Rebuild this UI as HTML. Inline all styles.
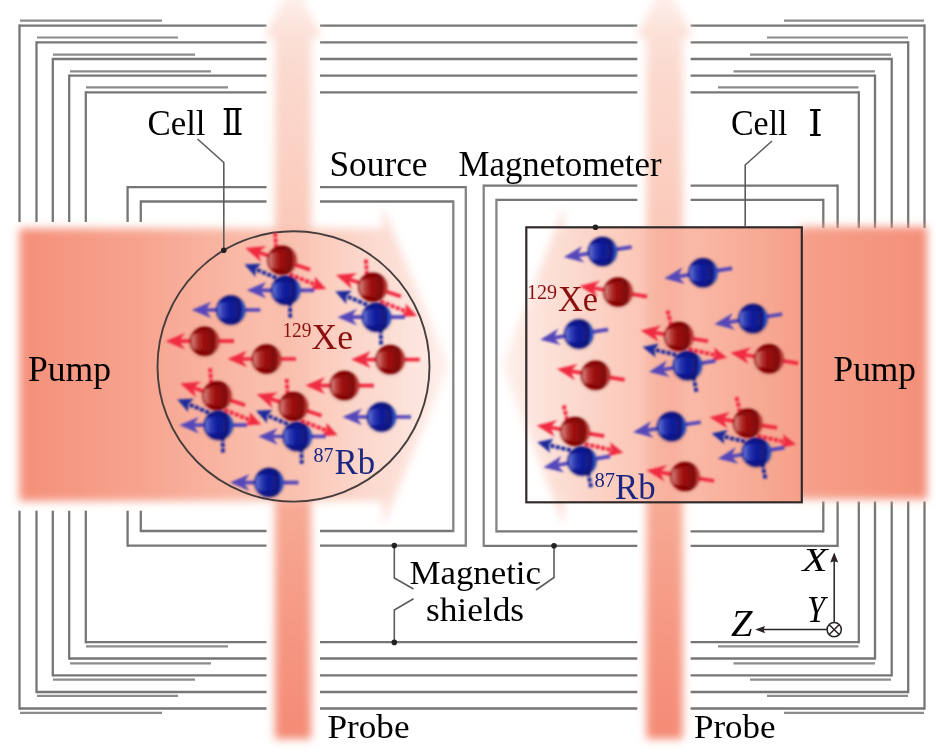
<!DOCTYPE html>
<html><head><meta charset="utf-8"><title>Magnetometer schematic</title>
<style>
html,body{margin:0;padding:0;background:#fff;}
body{width:936px;height:752px;overflow:hidden;}
svg{display:block;}
text{font-family:"Liberation Serif","Noto Serif CJK SC",serif;}
</style></head><body>
<svg width="936" height="752" viewBox="0 0 936 752">
<defs>
<filter id="b3" x="-10%" y="-10%" width="120%" height="120%"><feGaussianBlur stdDeviation="4.5"/></filter>
<filter id="b3r" x="-10%" y="-10%" width="120%" height="120%"><feGaussianBlur stdDeviation="4"/></filter>
<filter id="b2" x="-60%" y="-5%" width="220%" height="110%"><feGaussianBlur stdDeviation="4.3"/></filter>
<filter id="b05" x="-5%" y="-5%" width="110%" height="110%"><feGaussianBlur stdDeviation="0.55"/></filter>
<filter id="b12" x="-30%" y="-30%" width="160%" height="160%"><feGaussianBlur stdDeviation="1.3"/></filter>
<filter id="b06" x="-30%" y="-30%" width="160%" height="160%"><feGaussianBlur stdDeviation="0.6"/></filter>
<filter id="b07" x="-20%" y="-20%" width="140%" height="140%"><feGaussianBlur stdDeviation="0.9"/></filter>
<clipPath id="cpRect"><rect x="526.3" y="227.3" width="275.5" height="275.0"/></clipPath>
<clipPath id="cpCirc"><ellipse cx="293.5" cy="366.4" rx="136" ry="135.2"/></clipPath>
<linearGradient id="gPL" gradientUnits="userSpaceOnUse" x1="17" y1="0" x2="452" y2="0">
 <stop offset="0" stop-color="#f48f79"/>
 <stop offset="0.30" stop-color="#f7a590"/>
 <stop offset="0.62" stop-color="#fac3b2"/>
 <stop offset="0.84" stop-color="#fcdcd2"/>
 <stop offset="0.93" stop-color="#fde6df"/>
 <stop offset="1" stop-color="#fef2ee"/>
</linearGradient>
<linearGradient id="gPR" gradientUnits="userSpaceOnUse" x1="927" y1="0" x2="500" y2="0">
 <stop offset="0" stop-color="#f48f79"/>
 <stop offset="0.30" stop-color="#f6a08a"/>
 <stop offset="0.46" stop-color="#f8b09c"/>
 <stop offset="0.62" stop-color="#fac0ae"/>
 <stop offset="0.84" stop-color="#fcdbd0"/>
 <stop offset="0.93" stop-color="#fde6df"/>
 <stop offset="1" stop-color="#fef2ee"/>
</linearGradient>
<linearGradient id="gPr" gradientUnits="userSpaceOnUse" x1="0" y1="738" x2="0" y2="-20">
 <stop offset="0" stop-color="#f48b75"/>
 <stop offset="0.15" stop-color="#f59883"/>
 <stop offset="0.30" stop-color="#f7a994"/>
 <stop offset="0.66" stop-color="#fac8b9"/>
 <stop offset="0.78" stop-color="#fbd2c5"/>
 <stop offset="0.87" stop-color="#fbd8cd"/>
 <stop offset="0.925" stop-color="#fce0d7"/>
 <stop offset="0.975" stop-color="#feeee9"/>
 <stop offset="1" stop-color="#fff6f3"/>
</linearGradient>
<linearGradient id="gR" x1="0" y1="0" x2="0" y2="1">
 <stop offset="0" stop-color="#7e0404"/><stop offset="0.28" stop-color="#9a0a0a"/><stop offset="0.72" stop-color="#9a0a0a"/><stop offset="1" stop-color="#7e0404"/>
</linearGradient>
<linearGradient id="gB" x1="0" y1="0" x2="0" y2="1">
 <stop offset="0" stop-color="#090f7c"/><stop offset="0.28" stop-color="#111c9a"/><stop offset="0.72" stop-color="#111c9a"/><stop offset="1" stop-color="#090f7c"/>
</linearGradient>
<linearGradient id="gGR" x1="0" y1="0" x2="1" y2="0">
 <stop offset="0" stop-color="#e8a8a4" stop-opacity="0.85"/><stop offset="0.35" stop-color="#d87870" stop-opacity="0.55"/><stop offset="1" stop-color="#c04038" stop-opacity="0"/>
</linearGradient>
<linearGradient id="gGB" x1="0" y1="0" x2="1" y2="0">
 <stop offset="0" stop-color="#8a98e8" stop-opacity="0.8"/><stop offset="0.35" stop-color="#5a6cd4" stop-opacity="0.5"/><stop offset="1" stop-color="#3040c0" stop-opacity="0"/>
</linearGradient>
<linearGradient id="gSh" x1="0" y1="0" x2="1" y2="0">
 <stop offset="0.55" stop-color="#201010" stop-opacity="0"/><stop offset="0.78" stop-color="#201010" stop-opacity="0.22"/><stop offset="0.9" stop-color="#201010" stop-opacity="0"/>
</linearGradient>
<g id="sR">
 <circle cx="0" cy="0.4" r="15.4" fill="#5a1a10" opacity="0.30" filter="url(#b12)"/>
 <circle r="14.5" fill="url(#gR)"/>
 <circle r="14.5" fill="url(#gSh)"/>
 <path d="M-11.8 -6.3C-9 -8 -4 -8.4 -1.2 -7.8C0.6 -3 0.6 3.5 -1.8 8.2C-5 8.8 -9 8.6 -11.2 7.4C-13.3 3.5 -13.5 -2.5 -11.8 -6.3Z" fill="url(#gGR)" filter="url(#b06)"/>
 <path d="M8.4 -11.6A14.3 14.3 0 0 1 8.4 11.6A22 22 0 0 0 8.4 -11.6Z" fill="#c04440" opacity="0.85" filter="url(#b06)"/>
</g>
<g id="sB">
 <circle cx="0" cy="0.4" r="15.4" fill="#1a1c50" opacity="0.30" filter="url(#b12)"/>
 <circle r="14.5" fill="url(#gB)"/>
 <circle r="14.5" fill="url(#gSh)"/>
 <path d="M-11.8 -6.3C-9 -8 -4 -8.4 -1.2 -7.8C0.6 -3 0.6 3.5 -1.8 8.2C-5 8.8 -9 8.6 -11.2 7.4C-13.3 3.5 -13.5 -2.5 -11.8 -6.3Z" fill="url(#gGB)" filter="url(#b06)"/>
 <path d="M8.4 -11.6A14.3 14.3 0 0 1 8.4 11.6A22 22 0 0 0 8.4 -11.6Z" fill="#3058c4" opacity="0.9" filter="url(#b06)"/>
</g>
<linearGradient id="gGl" x1="0" y1="0" x2="1" y2="0">
 <stop offset="0" stop-color="#fff" stop-opacity="0.40"/>
 <stop offset="1" stop-color="#fff" stop-opacity="0.05"/>
</linearGradient>
</defs>
<rect width="936" height="752" fill="#fff"/>

<g filter="url(#b05)">
<path d="M19.5 25.6L266.5 25.6" stroke="#767676" stroke-width="2.3" fill="none"/>
<path d="M320.0 25.6L637.3 25.6" stroke="#767676" stroke-width="2.3" fill="none"/>
<path d="M690.6 25.6L924.5 25.6" stroke="#767676" stroke-width="2.3" fill="none"/>
<path d="M19.5 708.5L266.5 708.5" stroke="#767676" stroke-width="2.3" fill="none"/>
<path d="M320.0 708.5L637.3 708.5" stroke="#767676" stroke-width="2.3" fill="none"/>
<path d="M690.6 708.5L924.5 708.5" stroke="#767676" stroke-width="2.3" fill="none"/>
<path d="M19.5 24.450000000000003L19.5 222.0" stroke="#767676" stroke-width="2.3" fill="none"/>
<path d="M19.5 510.7L19.5 709.65" stroke="#767676" stroke-width="2.3" fill="none"/>
<path d="M924.5 24.450000000000003L924.5 228.0" stroke="#767676" stroke-width="2.3" fill="none"/>
<path d="M924.5 501.5L924.5 709.65" stroke="#767676" stroke-width="2.3" fill="none"/>
<path d="M36.5 42.4L266.5 42.4" stroke="#767676" stroke-width="2.3" fill="none"/>
<path d="M320.0 42.4L637.3 42.4" stroke="#767676" stroke-width="2.3" fill="none"/>
<path d="M690.6 42.4L908.2 42.4" stroke="#767676" stroke-width="2.3" fill="none"/>
<path d="M36.5 692.0L266.5 692.0" stroke="#767676" stroke-width="2.3" fill="none"/>
<path d="M320.0 692.0L637.3 692.0" stroke="#767676" stroke-width="2.3" fill="none"/>
<path d="M690.6 692.0L908.2 692.0" stroke="#767676" stroke-width="2.3" fill="none"/>
<path d="M36.5 41.25L36.5 222.0" stroke="#767676" stroke-width="2.3" fill="none"/>
<path d="M36.5 510.7L36.5 693.15" stroke="#767676" stroke-width="2.3" fill="none"/>
<path d="M908.2 41.25L908.2 228.0" stroke="#767676" stroke-width="2.3" fill="none"/>
<path d="M908.2 501.5L908.2 693.15" stroke="#767676" stroke-width="2.3" fill="none"/>
<path d="M52.8 59.0L266.5 59.0" stroke="#767676" stroke-width="2.3" fill="none"/>
<path d="M320.0 59.0L637.3 59.0" stroke="#767676" stroke-width="2.3" fill="none"/>
<path d="M690.6 59.0L891.7 59.0" stroke="#767676" stroke-width="2.3" fill="none"/>
<path d="M52.8 675.3L266.5 675.3" stroke="#767676" stroke-width="2.3" fill="none"/>
<path d="M320.0 675.3L637.3 675.3" stroke="#767676" stroke-width="2.3" fill="none"/>
<path d="M690.6 675.3L891.7 675.3" stroke="#767676" stroke-width="2.3" fill="none"/>
<path d="M52.8 57.85L52.8 222.0" stroke="#767676" stroke-width="2.3" fill="none"/>
<path d="M52.8 510.7L52.8 676.4499999999999" stroke="#767676" stroke-width="2.3" fill="none"/>
<path d="M891.7 57.85L891.7 228.0" stroke="#767676" stroke-width="2.3" fill="none"/>
<path d="M891.7 501.5L891.7 676.4499999999999" stroke="#767676" stroke-width="2.3" fill="none"/>
<path d="M69.2 75.7L266.5 75.7" stroke="#767676" stroke-width="2.3" fill="none"/>
<path d="M320.0 75.7L637.3 75.7" stroke="#767676" stroke-width="2.3" fill="none"/>
<path d="M690.6 75.7L875.0 75.7" stroke="#767676" stroke-width="2.3" fill="none"/>
<path d="M69.2 658.5L266.5 658.5" stroke="#767676" stroke-width="2.3" fill="none"/>
<path d="M320.0 658.5L637.3 658.5" stroke="#767676" stroke-width="2.3" fill="none"/>
<path d="M690.6 658.5L875.0 658.5" stroke="#767676" stroke-width="2.3" fill="none"/>
<path d="M69.2 74.55L69.2 222.0" stroke="#767676" stroke-width="2.3" fill="none"/>
<path d="M69.2 510.7L69.2 659.65" stroke="#767676" stroke-width="2.3" fill="none"/>
<path d="M875.0 74.55L875.0 228.0" stroke="#767676" stroke-width="2.3" fill="none"/>
<path d="M875.0 501.5L875.0 659.65" stroke="#767676" stroke-width="2.3" fill="none"/>
<path d="M85.8 92.4L266.5 92.4" stroke="#767676" stroke-width="2.3" fill="none"/>
<path d="M320.0 92.4L637.3 92.4" stroke="#767676" stroke-width="2.3" fill="none"/>
<path d="M690.6 92.4L858.8 92.4" stroke="#767676" stroke-width="2.3" fill="none"/>
<path d="M85.8 642.2L266.5 642.2" stroke="#767676" stroke-width="2.3" fill="none"/>
<path d="M320.0 642.2L637.3 642.2" stroke="#767676" stroke-width="2.3" fill="none"/>
<path d="M690.6 642.2L858.8 642.2" stroke="#767676" stroke-width="2.3" fill="none"/>
<path d="M85.8 91.25L85.8 222.0" stroke="#767676" stroke-width="2.3" fill="none"/>
<path d="M85.8 510.7L85.8 643.35" stroke="#767676" stroke-width="2.3" fill="none"/>
<path d="M858.8 91.25L858.8 228.0" stroke="#767676" stroke-width="2.3" fill="none"/>
<path d="M858.8 501.5L858.8 643.35" stroke="#767676" stroke-width="2.3" fill="none"/>
<path d="M20 20.6L162 20.6" stroke="#8c8c8c" stroke-width="2.2" fill="none"/>
<path d="M20 712.8L162 712.8" stroke="#8c8c8c" stroke-width="2.2" fill="none"/>
<path d="M784 20.6L924 20.6" stroke="#8c8c8c" stroke-width="2.2" fill="none"/>
<path d="M784 712.8L924 712.8" stroke="#8c8c8c" stroke-width="2.2" fill="none"/>
<path d="M37 37.5L178 37.5" stroke="#8c8c8c" stroke-width="2.2" fill="none"/>
<path d="M37 695.9L178 695.9" stroke="#8c8c8c" stroke-width="2.2" fill="none"/>
<path d="M767 37.5L908 37.5" stroke="#8c8c8c" stroke-width="2.2" fill="none"/>
<path d="M767 695.9L908 695.9" stroke="#8c8c8c" stroke-width="2.2" fill="none"/>
<path d="M53 54.6L195 54.6" stroke="#8c8c8c" stroke-width="2.2" fill="none"/>
<path d="M53 679.6L195 679.6" stroke="#8c8c8c" stroke-width="2.2" fill="none"/>
<path d="M750 54.6L891 54.6" stroke="#8c8c8c" stroke-width="2.2" fill="none"/>
<path d="M750 679.6L891 679.6" stroke="#8c8c8c" stroke-width="2.2" fill="none"/>
<path d="M70 71.3L211 71.3" stroke="#8c8c8c" stroke-width="2.2" fill="none"/>
<path d="M70 663.3L211 663.3" stroke="#8c8c8c" stroke-width="2.2" fill="none"/>
<path d="M733.5 71.3L875 71.3" stroke="#8c8c8c" stroke-width="2.2" fill="none"/>
<path d="M733.5 663.3L875 663.3" stroke="#8c8c8c" stroke-width="2.2" fill="none"/>
<path d="M86 87.4L228 87.4" stroke="#8c8c8c" stroke-width="2.2" fill="none"/>
<path d="M86 646.4L228 646.4" stroke="#8c8c8c" stroke-width="2.2" fill="none"/>
<path d="M718 87.4L858.5 87.4" stroke="#8c8c8c" stroke-width="2.2" fill="none"/>
<path d="M718 646.4L858.5 646.4" stroke="#8c8c8c" stroke-width="2.2" fill="none"/>
<path d="M127.6 187.1L266.5 187.1" stroke="#767676" stroke-width="2.3" fill="none"/>
<path d="M320.0 187.1L465.8 187.1" stroke="#767676" stroke-width="2.3" fill="none"/>
<path d="M127.6 545.6L266.5 545.6" stroke="#767676" stroke-width="2.3" fill="none"/>
<path d="M320.0 545.6L465.8 545.6" stroke="#767676" stroke-width="2.3" fill="none"/>
<path d="M127.6 185.95L127.6 222.0" stroke="#767676" stroke-width="2.3" fill="none"/>
<path d="M127.6 510.7L127.6 546.75" stroke="#767676" stroke-width="2.3" fill="none"/>
<path d="M140.8 201.5L266.5 201.5" stroke="#767676" stroke-width="2.3" fill="none"/>
<path d="M320.0 201.5L453.3 201.5" stroke="#767676" stroke-width="2.3" fill="none"/>
<path d="M140.8 531.0L266.5 531.0" stroke="#767676" stroke-width="2.3" fill="none"/>
<path d="M320.0 531.0L453.3 531.0" stroke="#767676" stroke-width="2.3" fill="none"/>
<path d="M140.8 200.35L140.8 222.0" stroke="#767676" stroke-width="2.3" fill="none"/>
<path d="M140.8 510.7L140.8 532.15" stroke="#767676" stroke-width="2.3" fill="none"/>
<path d="M483.7 185.7L637.3 185.7" stroke="#767676" stroke-width="2.3" fill="none"/>
<path d="M690.6 185.7L837.6 185.7" stroke="#767676" stroke-width="2.3" fill="none"/>
<path d="M483.7 545.8L637.3 545.8" stroke="#767676" stroke-width="2.3" fill="none"/>
<path d="M690.6 545.8L837.6 545.8" stroke="#767676" stroke-width="2.3" fill="none"/>
<path d="M837.6 184.54999999999998L837.6 228.0" stroke="#767676" stroke-width="2.3" fill="none"/>
<path d="M837.6 501.5L837.6 546.9499999999999" stroke="#767676" stroke-width="2.3" fill="none"/>
<path d="M496.4 199.9L637.3 199.9" stroke="#767676" stroke-width="2.3" fill="none"/>
<path d="M690.6 199.9L823.3 199.9" stroke="#767676" stroke-width="2.3" fill="none"/>
<path d="M496.4 531.3L637.3 531.3" stroke="#767676" stroke-width="2.3" fill="none"/>
<path d="M690.6 531.3L823.3 531.3" stroke="#767676" stroke-width="2.3" fill="none"/>
<path d="M823.3 198.75L823.3 228.0" stroke="#767676" stroke-width="2.3" fill="none"/>
<path d="M823.3 501.5L823.3 532.4499999999999" stroke="#767676" stroke-width="2.3" fill="none"/>
</g>
<path d="M274.9 739L274.9 37.5L264.5 37.5L293.0 -21L321.5 37.5L311.1 37.5L311.1 739Z" fill="url(#gPr)" filter="url(#b2)"/>
<path d="M646.5 739L646.5 37.5L636.1 37.5L664.6 -21L693.1 37.5L682.7 37.5L682.7 739Z" fill="url(#gPr)" filter="url(#b2)"/>
<path d="M19.3 228.5L383 228.5L383 207L449 366L383 526L383 501L19.3 501Z" fill="url(#gPL)" filter="url(#b3)"/>
<path d="M927.2 226.8L799 226.8L799 234L564 234L564 207L502 366L564 526L564 495.5L799 495.5L799 499.3L927.2 499.3Z" fill="url(#gPR)" filter="url(#b3r)"/>
<g clip-path="url(#cpRect)"><rect x="562" y="212" width="260" height="306" fill="url(#gPR)" filter="url(#b3r)"/></g>
<g clip-path="url(#cpCirc)"><rect x="120" y="212" width="272" height="306" fill="url(#gPL)" filter="url(#b3)"/></g>
<g clip-path="url(#cpRect)"><rect x="647.5" y="215" width="34.5" height="300" fill="#f38c76" opacity="0.24" filter="url(#b2)"/></g>
<g clip-path="url(#cpCirc)"><rect x="276" y="215" width="34" height="300" fill="#f38c76" opacity="0.07" filter="url(#b2)"/></g>
<g filter="url(#b05)">
<path d="M465.8 185.95L465.8 546.75" stroke="#848484" stroke-width="2.3" fill="none"/>
<path d="M453.3 200.35L453.3 532.15" stroke="#848484" stroke-width="2.3" fill="none"/>
<path d="M483.7 184.54999999999998L483.7 546.9499999999999" stroke="#848484" stroke-width="2.3" fill="none"/>
<path d="M496.4 198.75L496.4 532.4499999999999" stroke="#848484" stroke-width="2.3" fill="none"/>
</g>
<g filter="url(#b05)">
<ellipse cx="293.5" cy="366.4" rx="136" ry="135.2" fill="none" stroke="#463e3e" stroke-width="1.9"/>
<rect x="526.3" y="227.3" width="275.5" height="275.0" fill="none" stroke="#322b2b" stroke-width="2.2"/>
</g>
<g filter="url(#b07)" transform="translate(0 0.9)">
<g transform="translate(230.8 309.0) rotate(0)"><path d="M-39.0 0L-19.5 -8.3L-24.0 -1.85L29.5 -1.85L29.5 1.85L-24.0 1.85L-19.5 8.3Z" fill="#5446ba"/></g><use href="#sB" x="230.8" y="309.0"/>
<g transform="translate(204.5 340.2) rotate(0)"><path d="M-39.0 0L-19.5 -8.3L-24.0 -1.85L29.5 -1.85L29.5 1.85L-24.0 1.85L-19.5 8.3Z" fill="#f02a40"/></g><use href="#sR" x="204.5" y="340.2"/>
<g transform="translate(266.5 358.0) rotate(0)"><path d="M-39.0 0L-19.5 -8.3L-24.0 -1.85L29.5 -1.85L29.5 1.85L-24.0 1.85L-19.5 8.3Z" fill="#f02a40"/></g><use href="#sR" x="266.5" y="358.0"/>
<g transform="translate(390.2 358.6) rotate(0)"><path d="M-39.0 0L-19.5 -8.3L-24.0 -1.85L29.5 -1.85L29.5 1.85L-24.0 1.85L-19.5 8.3Z" fill="#f02a40"/></g><use href="#sR" x="390.2" y="358.6"/>
<g transform="translate(344.4 384.6) rotate(0)"><path d="M-39.0 0L-19.5 -8.3L-24.0 -1.85L29.5 -1.85L29.5 1.85L-24.0 1.85L-19.5 8.3Z" fill="#f02a40"/></g><use href="#sR" x="344.4" y="384.6"/>
<g transform="translate(381.5 416.0) rotate(0)"><path d="M-39.0 0L-19.5 -8.3L-24.0 -1.85L29.5 -1.85L29.5 1.85L-24.0 1.85L-19.5 8.3Z" fill="#5446ba"/></g><use href="#sB" x="381.5" y="416.0"/>
<g transform="translate(269.0 481.6) rotate(0)"><path d="M-39.0 0L-19.5 -8.3L-24.0 -1.85L29.5 -1.85L29.5 1.85L-24.0 1.85L-19.5 8.3Z" fill="#5446ba"/></g><use href="#sB" x="269.0" y="481.6"/>
<g transform="translate(282.0 259.3) rotate(0)"><path d="M-6.9 -27.5L-5.8 -12" stroke="#f02a40" stroke-width="3.9" stroke-dasharray="4.2 1.4" fill="none"/><g transform="rotate(18.4)"><path d="M-38.8 0L-19.299999999999997 -8.3L-23.799999999999997 -1.85L29.6 -1.85L29.6 1.85L-23.799999999999997 1.85L-19.299999999999997 8.3Z" fill="#f02a40"/></g><g transform="translate(7.5 14.0) rotate(21.9)"><path d="M0 0L27.5 0" stroke="#f02a40" stroke-width="3.9" stroke-dasharray="4.2 1.4" fill="none"/><path d="M39.5 0L24.5 -7.2L27.5 0L24.5 7.2Z" fill="#f02a40"/></g><g transform="translate(-5.7 17.7) rotate(-157.0)"><path d="M0 0L23.5 0" stroke="#1f2a9c" stroke-width="3.9" stroke-dasharray="4.2 1.4" fill="none"/><path d="M34.5 0L19.5 -7.2L22.5 0L19.5 7.2Z" fill="#1f2a9c"/></g><g transform="translate(3.7 30.0)"><path d="M-39.0 0L-19.5 -8.3L-24.0 -1.85L28.5 -1.85L28.5 1.85L-24.0 1.85L-19.5 8.3Z" fill="#5446ba"/></g><path d="M7.9 42.0L8.3 58.4" stroke="#1f2a9c" stroke-width="3.9" stroke-dasharray="4.2 1.4" fill="none"/></g><use href="#sR" x="282.0" y="259.3"/><use href="#sB" x="285.7" y="289.3"/>
<g transform="translate(372.8 286.2) rotate(0)"><path d="M-6.9 -27.5L-5.8 -12" stroke="#f02a40" stroke-width="3.9" stroke-dasharray="4.2 1.4" fill="none"/><g transform="rotate(18.4)"><path d="M-38.8 0L-19.299999999999997 -8.3L-23.799999999999997 -1.85L29.6 -1.85L29.6 1.85L-23.799999999999997 1.85L-19.299999999999997 8.3Z" fill="#f02a40"/></g><g transform="translate(7.5 14.0) rotate(21.9)"><path d="M0 0L27.5 0" stroke="#f02a40" stroke-width="3.9" stroke-dasharray="4.2 1.4" fill="none"/><path d="M39.5 0L24.5 -7.2L27.5 0L24.5 7.2Z" fill="#f02a40"/></g><g transform="translate(-5.7 17.7) rotate(-157.0)"><path d="M0 0L23.5 0" stroke="#1f2a9c" stroke-width="3.9" stroke-dasharray="4.2 1.4" fill="none"/><path d="M34.5 0L19.5 -7.2L22.5 0L19.5 7.2Z" fill="#1f2a9c"/></g><g transform="translate(3.7 30.0)"><path d="M-39.0 0L-19.5 -8.3L-24.0 -1.85L28.5 -1.85L28.5 1.85L-24.0 1.85L-19.5 8.3Z" fill="#5446ba"/></g><path d="M7.9 42.0L8.3 58.4" stroke="#1f2a9c" stroke-width="3.9" stroke-dasharray="4.2 1.4" fill="none"/></g><use href="#sR" x="372.8" y="286.2"/><use href="#sB" x="376.5" y="316.2"/>
<g transform="translate(217.0 394.8) rotate(0)"><path d="M-6.9 -27.5L-5.8 -12" stroke="#f02a40" stroke-width="3.9" stroke-dasharray="4.2 1.4" fill="none"/><g transform="rotate(18.4)"><path d="M-38.8 0L-19.299999999999997 -8.3L-23.799999999999997 -1.85L29.6 -1.85L29.6 1.85L-23.799999999999997 1.85L-19.299999999999997 8.3Z" fill="#f02a40"/></g><g transform="translate(7.5 14.0) rotate(21.9)"><path d="M0 0L27.5 0" stroke="#f02a40" stroke-width="3.9" stroke-dasharray="4.2 1.4" fill="none"/><path d="M39.5 0L24.5 -7.2L27.5 0L24.5 7.2Z" fill="#f02a40"/></g><g transform="translate(-8.0 17.099999999999998) rotate(-157.0)"><path d="M0 0L23.5 0" stroke="#1f2a9c" stroke-width="3.9" stroke-dasharray="4.2 1.4" fill="none"/><path d="M34.5 0L19.5 -7.2L22.5 0L19.5 7.2Z" fill="#1f2a9c"/></g><g transform="translate(1.4000000000000004 29.4)"><path d="M-39.0 0L-19.5 -8.3L-24.0 -1.85L28.5 -1.85L28.5 1.85L-24.0 1.85L-19.5 8.3Z" fill="#5446ba"/></g><path d="M5.6000000000000005 41.4L6.0 57.8" stroke="#1f2a9c" stroke-width="3.9" stroke-dasharray="4.2 1.4" fill="none"/></g><use href="#sR" x="217.0" y="394.8"/><use href="#sB" x="218.4" y="424.2"/>
<g transform="translate(293.5 405.5) rotate(0)"><path d="M-6.9 -27.5L-5.8 -12" stroke="#f02a40" stroke-width="3.9" stroke-dasharray="4.2 1.4" fill="none"/><g transform="rotate(18.4)"><path d="M-38.8 0L-19.299999999999997 -8.3L-23.799999999999997 -1.85L29.6 -1.85L29.6 1.85L-23.799999999999997 1.85L-19.299999999999997 8.3Z" fill="#f02a40"/></g><g transform="translate(7.5 14.0) rotate(21.9)"><path d="M0 0L27.5 0" stroke="#f02a40" stroke-width="3.9" stroke-dasharray="4.2 1.4" fill="none"/><path d="M39.5 0L24.5 -7.2L27.5 0L24.5 7.2Z" fill="#f02a40"/></g><g transform="translate(-5.7 17.7) rotate(-157.0)"><path d="M0 0L23.5 0" stroke="#1f2a9c" stroke-width="3.9" stroke-dasharray="4.2 1.4" fill="none"/><path d="M34.5 0L19.5 -7.2L22.5 0L19.5 7.2Z" fill="#1f2a9c"/></g><g transform="translate(3.7 30.0)"><path d="M-39.0 0L-19.5 -8.3L-24.0 -1.85L28.5 -1.85L28.5 1.85L-24.0 1.85L-19.5 8.3Z" fill="#5446ba"/></g><path d="M7.9 42.0L8.3 58.4" stroke="#1f2a9c" stroke-width="3.9" stroke-dasharray="4.2 1.4" fill="none"/></g><use href="#sR" x="293.5" y="405.5"/><use href="#sB" x="297.2" y="435.5"/>
<g transform="translate(602.5 250.5) rotate(-8.5)"><path d="M-39.0 0L-19.5 -8.3L-24.0 -1.85L29.5 -1.85L29.5 1.85L-24.0 1.85L-19.5 8.3Z" fill="#5446ba"/></g><use href="#sB" x="602.5" y="250.5"/>
<g transform="translate(618.0 291.0) rotate(9)"><path d="M-39.0 0L-19.5 -8.3L-24.0 -1.85L29.5 -1.85L29.5 1.85L-24.0 1.85L-19.5 8.3Z" fill="#f02a40"/></g><use href="#sR" x="618.0" y="291.0"/>
<g transform="translate(703.0 271.8) rotate(-8.5)"><path d="M-39.0 0L-19.5 -8.3L-24.0 -1.85L29.5 -1.85L29.5 1.85L-24.0 1.85L-19.5 8.3Z" fill="#5446ba"/></g><use href="#sB" x="703.0" y="271.8"/>
<g transform="translate(578.8 333.0) rotate(-8.5)"><path d="M-39.0 0L-19.5 -8.3L-24.0 -1.85L29.5 -1.85L29.5 1.85L-24.0 1.85L-19.5 8.3Z" fill="#5446ba"/></g><use href="#sB" x="578.8" y="333.0"/>
<g transform="translate(753.0 317.6) rotate(-8.5)"><path d="M-39.0 0L-19.5 -8.3L-24.0 -1.85L29.5 -1.85L29.5 1.85L-24.0 1.85L-19.5 8.3Z" fill="#5446ba"/></g><use href="#sB" x="753.0" y="317.6"/>
<g transform="translate(595.5 374.2) rotate(9)"><path d="M-39.0 0L-19.5 -8.3L-24.0 -1.85L29.5 -1.85L29.5 1.85L-24.0 1.85L-19.5 8.3Z" fill="#f02a40"/></g><use href="#sR" x="595.5" y="374.2"/>
<g transform="translate(769.0 357.8) rotate(9)"><path d="M-39.0 0L-19.5 -8.3L-24.0 -1.85L29.5 -1.85L29.5 1.85L-24.0 1.85L-19.5 8.3Z" fill="#f02a40"/></g><use href="#sR" x="769.0" y="357.8"/>
<g transform="translate(671.6 425.6) rotate(-8.5)"><path d="M-39.0 0L-19.5 -8.3L-24.0 -1.85L29.5 -1.85L29.5 1.85L-24.0 1.85L-19.5 8.3Z" fill="#5446ba"/></g><use href="#sB" x="671.6" y="425.6"/>
<g transform="translate(685.0 475.4) rotate(9)"><path d="M-39.0 0L-19.5 -8.3L-24.0 -1.85L29.5 -1.85L29.5 1.85L-24.0 1.85L-19.5 8.3Z" fill="#f02a40"/></g><use href="#sR" x="685.0" y="475.4"/>
<g transform="translate(678.9 335.6) rotate(-9.4)"><path d="M-6.9 -27.5L-5.8 -12" stroke="#f02a40" stroke-width="3.9" stroke-dasharray="4.2 1.4" fill="none"/><g transform="rotate(18.4)"><path d="M-38.8 0L-19.299999999999997 -8.3L-23.799999999999997 -1.85L29.6 -1.85L29.6 1.85L-23.799999999999997 1.85L-19.299999999999997 8.3Z" fill="#f02a40"/></g><g transform="translate(7.5 14.0) rotate(21.9)"><path d="M0 0L27.5 0" stroke="#f02a40" stroke-width="3.9" stroke-dasharray="4.2 1.4" fill="none"/><path d="M39.5 0L24.5 -7.2L27.5 0L24.5 7.2Z" fill="#f02a40"/></g><g transform="translate(-5.7 17.7) rotate(-157.0)"><path d="M0 0L23.5 0" stroke="#1f2a9c" stroke-width="3.9" stroke-dasharray="4.2 1.4" fill="none"/><path d="M34.5 0L19.5 -7.2L22.5 0L19.5 7.2Z" fill="#1f2a9c"/></g><g transform="translate(3.7 30.0)"><path d="M-39.0 0L-19.5 -8.3L-24.0 -1.85L28.5 -1.85L28.5 1.85L-24.0 1.85L-19.5 8.3Z" fill="#5446ba"/></g><path d="M7.9 42.0L8.3 58.4" stroke="#1f2a9c" stroke-width="3.9" stroke-dasharray="4.2 1.4" fill="none"/></g><use href="#sR" x="678.9" y="335.6"/><use href="#sB" x="687.45" y="364.59"/>
<g transform="translate(575.0 430.5) rotate(-9.4)"><path d="M-6.9 -27.5L-5.8 -12" stroke="#f02a40" stroke-width="3.9" stroke-dasharray="4.2 1.4" fill="none"/><g transform="rotate(18.4)"><path d="M-38.8 0L-19.299999999999997 -8.3L-23.799999999999997 -1.85L29.6 -1.85L29.6 1.85L-23.799999999999997 1.85L-19.299999999999997 8.3Z" fill="#f02a40"/></g><g transform="translate(7.5 14.0) rotate(21.9)"><path d="M0 0L27.5 0" stroke="#f02a40" stroke-width="3.9" stroke-dasharray="4.2 1.4" fill="none"/><path d="M39.5 0L24.5 -7.2L27.5 0L24.5 7.2Z" fill="#f02a40"/></g><g transform="translate(-7.300000000000001 18.0) rotate(-157.0)"><path d="M0 0L23.5 0" stroke="#1f2a9c" stroke-width="3.9" stroke-dasharray="4.2 1.4" fill="none"/><path d="M34.5 0L19.5 -7.2L22.5 0L19.5 7.2Z" fill="#1f2a9c"/></g><g transform="translate(2.1 30.3)"><path d="M-39.0 0L-19.5 -8.3L-24.0 -1.85L28.5 -1.85L28.5 1.85L-24.0 1.85L-19.5 8.3Z" fill="#5446ba"/></g><path d="M6.300000000000001 42.3L6.699999999999999 58.7" stroke="#1f2a9c" stroke-width="3.9" stroke-dasharray="4.2 1.4" fill="none"/></g><use href="#sR" x="575.0" y="430.5"/><use href="#sB" x="582.02" y="460.05"/>
<g transform="translate(747.8 422.3) rotate(-9.4)"><path d="M-6.9 -27.5L-5.8 -12" stroke="#f02a40" stroke-width="3.9" stroke-dasharray="4.2 1.4" fill="none"/><g transform="rotate(18.4)"><path d="M-38.8 0L-19.299999999999997 -8.3L-23.799999999999997 -1.85L29.6 -1.85L29.6 1.85L-23.799999999999997 1.85L-19.299999999999997 8.3Z" fill="#f02a40"/></g><g transform="translate(7.5 14.0) rotate(21.9)"><path d="M0 0L27.5 0" stroke="#f02a40" stroke-width="3.9" stroke-dasharray="4.2 1.4" fill="none"/><path d="M39.5 0L24.5 -7.2L27.5 0L24.5 7.2Z" fill="#f02a40"/></g><g transform="translate(-5.7 17.7) rotate(-157.0)"><path d="M0 0L23.5 0" stroke="#1f2a9c" stroke-width="3.9" stroke-dasharray="4.2 1.4" fill="none"/><path d="M34.5 0L19.5 -7.2L22.5 0L19.5 7.2Z" fill="#1f2a9c"/></g><g transform="translate(3.7 30.0)"><path d="M-39.0 0L-19.5 -8.3L-24.0 -1.85L28.5 -1.85L28.5 1.85L-24.0 1.85L-19.5 8.3Z" fill="#5446ba"/></g><path d="M7.9 42.0L8.3 58.4" stroke="#1f2a9c" stroke-width="3.9" stroke-dasharray="4.2 1.4" fill="none"/></g><use href="#sR" x="747.8" y="422.3"/><use href="#sB" x="756.35" y="451.29"/>
</g>
<g filter="url(#b05)" fill="none" stroke="#5c5c5c" stroke-width="1.6">
<path d="M197.5 139L223.8 162.5L223.8 250"/>
<path d="M772 141L745.2 165L745.2 226"/>
<path d="M394.3 545.6L394.3 578L413.5 589"/>
<path d="M413.5 598.8L394.3 610L394.3 642.5"/>
<path d="M554 546L554 577.5L536 590"/>
</g>
<g fill="#222" filter="url(#b05)">
<circle cx="223.8" cy="250.3" r="2.8"/>
<circle cx="595.5" cy="227.3" r="2.8"/>
<circle cx="394.3" cy="545.6" r="2.8"/>
<circle cx="554" cy="545.8" r="2.8"/>
<circle cx="394.3" cy="642.4" r="2.8"/>
</g>
<g filter="url(#b05)" stroke="#2a2424" stroke-width="1.5" fill="none">
<path d="M834.2 622.5L834.2 560"/><path d="M827 629.6L763 629.6"/>
<circle cx="834.2" cy="629.6" r="7.1" fill="#fff"/>
<path d="M829.3 624.7L839.1 634.5M839.1 624.7L829.3 634.5"/>
</g>
<path d="M834.2 552.6L838.2 562.6L834.2 561.2L830.2 562.6Z" fill="#2a2424"/>
<path d="M755.2 629.6L765 625.9L763.6 629.6L765 633.3Z" fill="#2a2424"/>
<g>
<text x="147.44" y="135.2" font-size="36" fill="#000" textLength="58.09" lengthAdjust="spacingAndGlyphs">Cell</text>
<text x="221.88" y="135.3" font-size="37" fill="#000" textLength="21.24" lengthAdjust="spacingAndGlyphs" style="font-family:'DejaVu Serif','Noto Serif CJK SC',serif">Ⅱ</text>
<text x="730.96" y="135.2" font-size="36" fill="#000" textLength="56.56" lengthAdjust="spacingAndGlyphs">Cell</text>
<text x="808.11" y="135.5" font-size="37.5" fill="#000" textLength="14.73" lengthAdjust="spacingAndGlyphs" style="font-family:'DejaVu Serif','Noto Serif CJK SC',serif">Ⅰ</text>
<text x="329.44" y="175.6" font-size="35.5" fill="#000" textLength="98.08" lengthAdjust="spacingAndGlyphs">Source</text>
<text x="458.49" y="175.7" font-size="35.5" fill="#000" textLength="203.01" lengthAdjust="spacingAndGlyphs">Magnetometer</text>
<text x="28.0" y="380.6" font-size="35.3" fill="#000" textLength="83.02" lengthAdjust="spacingAndGlyphs">Pump</text>
<text x="833.47" y="380.8" font-size="35.3" fill="#000" textLength="82.55" lengthAdjust="spacingAndGlyphs">Pump</text>
<text x="409.48" y="584.0" font-size="33" fill="#000" textLength="131.53" lengthAdjust="spacingAndGlyphs">Magnetic</text>
<text x="425.97" y="621.0" font-size="33.3" fill="#000" textLength="98.05" lengthAdjust="spacingAndGlyphs">shields</text>
<text x="327.48" y="737.8" font-size="34" fill="#000" textLength="82.04" lengthAdjust="spacingAndGlyphs">Probe</text>
<text x="693.98" y="737.8" font-size="34" fill="#000" textLength="81.55" lengthAdjust="spacingAndGlyphs">Probe</text>
<text x="802.29" y="571.4" font-size="34.6" fill="#000" textLength="25.3" lengthAdjust="spacingAndGlyphs" font-style="italic">X</text>
<text x="807.06" y="621.9" font-size="37" fill="#000" textLength="18.1" lengthAdjust="spacingAndGlyphs" font-style="italic">Y</text>
<text x="731.0" y="635.8" font-size="37" fill="#000" textLength="21.5" lengthAdjust="spacingAndGlyphs" font-style="italic">Z</text>
<text x="282.42" y="336.9" font-size="20.5" fill="#8a1010" textLength="29.13" lengthAdjust="spacingAndGlyphs">129</text>
<text x="311.48" y="348.9" font-size="36.5" fill="#8a1010" textLength="41.56" lengthAdjust="spacingAndGlyphs">Xe</text>
<text x="313.5" y="462.2" font-size="21" fill="#1c2580" textLength="20.02" lengthAdjust="spacingAndGlyphs">87</text>
<text x="334.45" y="473.9" font-size="35" fill="#1c2580" textLength="40.6" lengthAdjust="spacingAndGlyphs">Rb</text>
<text x="526.92" y="299.0" font-size="20.5" fill="#8a1010" textLength="30.17" lengthAdjust="spacingAndGlyphs">129</text>
<text x="558.0" y="311.1" font-size="36.5" fill="#8a1010" textLength="40.01" lengthAdjust="spacingAndGlyphs">Xe</text>
<text x="594.5" y="486.9" font-size="21" fill="#1c2580" textLength="20.55" lengthAdjust="spacingAndGlyphs">87</text>
<text x="614.95" y="498.9" font-size="35" fill="#1c2580" textLength="40.6" lengthAdjust="spacingAndGlyphs">Rb</text>
</g>
</svg></body></html>
